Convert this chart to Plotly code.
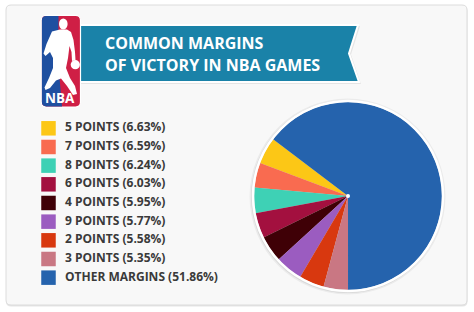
import plotly.graph_objects as go

# ---- data ----
labels = ["5 POINTS (6.63%)", "7 POINTS (6.59%)", "8 POINTS (6.24%)", "6 POINTS (6.03%)",
          "4 POINTS (5.95%)", "9 POINTS (5.77%)", "2 POINTS (5.58%)", "3 POINTS (5.35%)",
          "OTHER MARGINS (51.86%)"]
# slice shares as drawn in the picture (percent of the circle)
pie_share = [4.64, 4.25, 4.39, 4.31, 4.53, 4.72, 4.31, 4.19, 64.66]
colors = ["#fcc716", "#f96b50", "#3ed1b5", "#a3103f", "#3f0006",
          "#9b5cc0", "#d8380f", "#c97783", "#2563ad"]
title_lines = ["COMMON MARGINS", "OF VICTORY IN NBA GAMES"]

W, H = 474, 312
FONT = "Open Sans"


def rrect(x0, y0, x1, y1, r):
    return (f"M{x0+r},{y0} L{x1-r},{y0} Q{x1},{y0} {x1},{y0+r} L{x1},{y1-r} "
            f"Q{x1},{y1} {x1-r},{y1} L{x0+r},{y1} Q{x0},{y1} {x0},{y1-r} "
            f"L{x0},{y0+r} Q{x0},{y0} {x0+r},{y0} Z")


fig = go.Figure()

# pie
cx, cy, R = 348, 196, 94
fig.add_trace(go.Pie(
    labels=labels, values=pie_share, sort=False, direction="counterclockwise",
    rotation=290.5, marker=dict(colors=colors, line=dict(width=0)),
    textinfo="none", hoverinfo="label", showlegend=False,
    domain=dict(x=[(cx - R) / W, (cx + R) / W], y=[(H - cy - R) / H, (H - cy + R) / H]),
))

# legend (squares + labels)
leg_y = [128.3 + i * 18.67 for i in range(len(labels))]
fig.add_trace(go.Scatter(
    x=[48.5] * len(labels), y=leg_y, mode="markers",
    marker=dict(symbol="square", size=14.5, color=colors, line=dict(width=0)),
    hoverinfo="skip", showlegend=False,
))
fig.add_trace(go.Scatter(
    x=[65] * len(labels), y=leg_y, mode="text", text=labels,
    textposition="middle right",
    textfont=dict(family=FONT, size=12, color="#3a3a3a", weight="bold"),
    hoverinfo="skip", showlegend=False,
))

shapes = []
# card shadow + card
shapes.append(dict(type="path", path=rrect(6, 6, 467.5, 306.5, 5), fillcolor="rgba(0,0,0,0.10)",
                   line=dict(width=0), layer="below"))
shapes.append(dict(type="path", path=rrect(6, 5, 467, 305, 5), fillcolor="#f8f8f8",
                   line=dict(color="#dcdcdc", width=1), layer="below"))
# pie shadow
shapes.append(dict(type="circle", x0=cx - R - 4.5, x1=cx + R + 3.5, y0=cy - R - 3.5, y1=cy + R + 4.5,
                   fillcolor="rgba(0,0,0,0.05)", line=dict(width=0), layer="below"))
shapes.append(dict(type="circle", x0=cx - R - 3, x1=cx + R + 2, y0=cy - R - 2, y1=cy + R + 3,
                   fillcolor="rgba(0,0,0,0.08)", line=dict(width=0), layer="below"))
# pie white ring + centre dot
shapes.append(dict(type="circle", x0=cx - R - 1, x1=cx + R + 1, y0=cy - R - 1, y1=cy + R + 1,
                   line=dict(color="white", width=2.5), layer="above"))
shapes.append(dict(type="circle", x0=cx - 2, x1=cx + 2, y0=cy - 2, y1=cy + 2,
                   fillcolor="white", line=dict(width=0), layer="above"))

# banner
banner = "M80,25 L358,25 L349,53.5 L359,82 L80,82 Z"
shapes.append(dict(type="path", path="M80,26 L360,26 L351,54.5 L361,84 L80,84 Z",
                   fillcolor="rgba(0,0,0,0.08)", line=dict(width=0), layer="below"))
shapes.append(dict(type="path", path=banner, fillcolor="#1a82a8",
                   line=dict(color="white", width=2), layer="below"))

# NBA logo
shapes.append(dict(type="path", path=rrect(41.3, 15.3, 80.5, 107, 5), fillcolor="#cf1f45",
                   line=dict(color="white", width=1.2), layer="above"))
shapes.append(dict(type="path",
                   path=("M46.3,15.9 L58.5,15.9 L58,60 L62,106.4 L46.3,106.4 Q41.9,106.4 41.9,102 "
                         "L41.9,20.3 Q41.9,15.9 46.3,15.9 Z"),
                   fillcolor="#1f4fa0", line=dict(width=0), layer="above"))
shapes.append(dict(type="path",
                   path=("M52,31.5 L60,29.5 L67,29.5 L71,32 L73.5,40 L75,52 L75.5,60 L72,61 "
                         "L71.5,52 L69.5,46 L68,58 L66,68 L70,78 L75,86 L77,94 L73,95 L67,86 "
                         "L61,78.5 L56,80.5 L50,88 L45.5,90 L44.5,87.5 L49,78 L53,68 L53,58 "
                         "L50,52 L45.5,56 L43.5,53.5 L46.5,44 Z"),
                   fillcolor="white", line=dict(width=0), layer="above"))
shapes.append(dict(type="circle", x0=59, x1=67.6, y0=18.5, y1=29.5, fillcolor="white",
                   line=dict(width=0), layer="above"))
shapes.append(dict(type="circle", x0=70.7, x1=79.9, y0=60.1, y1=69.3, fillcolor="white",
                   line=dict(width=0), layer="above"))

annotations = [
    dict(x=103, y=42.5, text=title_lines[0], xanchor="left", yanchor="middle", showarrow=False,
         font=dict(family=FONT, size=16, color="white", weight="bold")),
    dict(x=103, y=64.5, text=title_lines[1], xanchor="left", yanchor="middle", showarrow=False,
         font=dict(family=FONT, size=16, color="white", weight="bold")),
    dict(x=60, y=97.5, text="NBA", xanchor="center", yanchor="middle", showarrow=False,
         font=dict(family=FONT, size=13.5, color="white", weight="bold")),
]
for a in annotations:
    a["xref"] = "x"
    a["yref"] = "y"
for s in shapes:
    s["xref"] = "x"
    s["yref"] = "y"

fig.update_layout(
    width=W, height=H, margin=dict(l=0, r=0, t=0, b=0),
    paper_bgcolor="white", plot_bgcolor="rgba(0,0,0,0)",
    xaxis=dict(range=[0, W], visible=False, fixedrange=True),
    yaxis=dict(range=[H, 0], visible=False, fixedrange=True),
    shapes=shapes, annotations=annotations, showlegend=False,
)

fig.write_html("out.html")
